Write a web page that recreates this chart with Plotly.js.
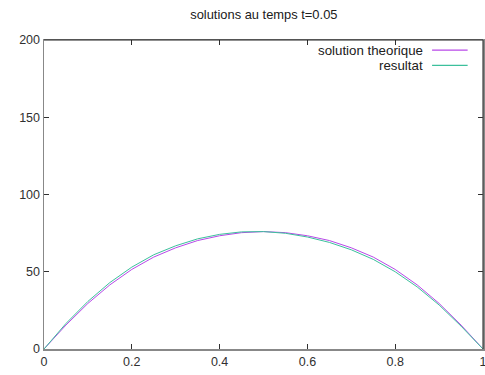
<!DOCTYPE html>
<html>
<head>
<meta charset="utf-8">
<script src="https://cdn.plot.ly/plotly-3.0.1.min.js"></script>
<style>html,body{margin:0;padding:0;background:#fff;}#chart{width:485px;height:375px;}</style>
</head>
<body>
<div id="chart"></div>
<script>
const xValues = [0, 0.05, 0.1, 0.15, 0.2, 0.25, 0.3, 0.35, 0.4, 0.45, 0.5, 0.55, 0.6, 0.65, 0.7, 0.75, 0.8, 0.85, 0.9, 0.95, 1];
const theorique = [0, 15.5, 29.5, 41.5, 51.5, 59.5, 65.5, 70.2, 73.3, 75.3, 76, 75.3, 73.3, 70.2, 65.5, 59.5, 51.5, 41.5, 29.5, 15.5, 0];
const resultat = [0, 16.5, 30.8, 43, 53, 61, 66.8, 71.3, 74.2, 75.8, 76, 74.9, 72.5, 69, 64.2, 58, 50, 40.2, 28.5, 14.8, 0];
const seriesNames = ["solution theorique", "resultat"];
const seriesColors = ["#b848e8", "#3cc09c"];
const titleText = "solutions au temps t=0.05";
const xTicks = [0, 0.2, 0.4, 0.6, 0.8, 1];
const xTickLabels = ["0", "0.2", "0.4", "0.6", "0.8", "1"];
const yTicks = [0, 50, 100, 150, 200];
const yTickLabels = ["0", "50", "100", "150", "200"];

const font = "'Liberation Sans', Arial, sans-serif";
const traces = [theorique, resultat].map((ys, i) => ({
  x: xValues, y: ys, type: 'scatter', mode: 'lines', name: seriesNames[i],
  line: {color: seriesColors[i], width: 1}, showlegend: false
}));

const legendY = [0.967, 0.918];
const annotations = seriesNames.map((n, i) => ({
  xref: 'paper', yref: 'paper', x: 0.869, y: legendY[i], xanchor: 'right', yanchor: 'middle',
  text: n, showarrow: false, font: {family: font, size: 13.3, color: '#202020'}
}));
const shapes = seriesNames.map((n, i) => ({
  type: 'line', xref: 'paper', yref: 'paper', x0: 0.884, x1: 0.965, y0: legendY[i], y1: legendY[i],
  line: {color: seriesColors[i], width: 1.2}
}));
shapes.push({type: 'line', xref: 'paper', yref: 'paper', x0: 0, x1: 1, y0: 1, y1: 1, line: {color: '#202020', width: 1.2}, layer: 'above'});
shapes.push({type: 'line', xref: 'paper', yref: 'paper', x0: 1, x1: 1, y0: 0, y1: 1, line: {color: '#404040', width: 1.2}, layer: 'above'});

const layout = {
  width: 485, height: 375,
  margin: {l: 44, r: 2, t: 40, b: 26},
  paper_bgcolor: '#fff', plot_bgcolor: '#fff',
  title: {text: titleText, font: {family: font, size: 12.9, color: '#202020'}, x: 0.544, xanchor: 'center', y: 0.962, yanchor: 'middle'},
  xaxis: {range: [0, 1], tickvals: xTicks, ticktext: xTickLabels, ticks: 'inside', ticklen: 5, tickcolor: '#303030',
    showgrid: false, zeroline: false, showline: true, linecolor: '#888', linewidth: 1.5, mirror: 'ticks',
    ticklabeloverflow: 'allow', automargin: false,
    tickfont: {family: font, size: 12.5, color: '#303030'}},
  yaxis: {range: [0, 200], tickvals: yTicks, ticktext: yTickLabels, ticks: 'inside', ticklen: 5, tickcolor: '#303030',
    showgrid: false, zeroline: false, showline: true, linecolor: '#888', linewidth: 1.5, mirror: 'ticks',
    automargin: false,
    tickfont: {family: font, size: 12.5, color: '#303030'}},
  annotations: annotations, shapes: shapes, showlegend: false
};
Plotly.newPlot('chart', traces, layout, {displayModeBar: false, staticPlot: true});
</script>
</body>
</html>
